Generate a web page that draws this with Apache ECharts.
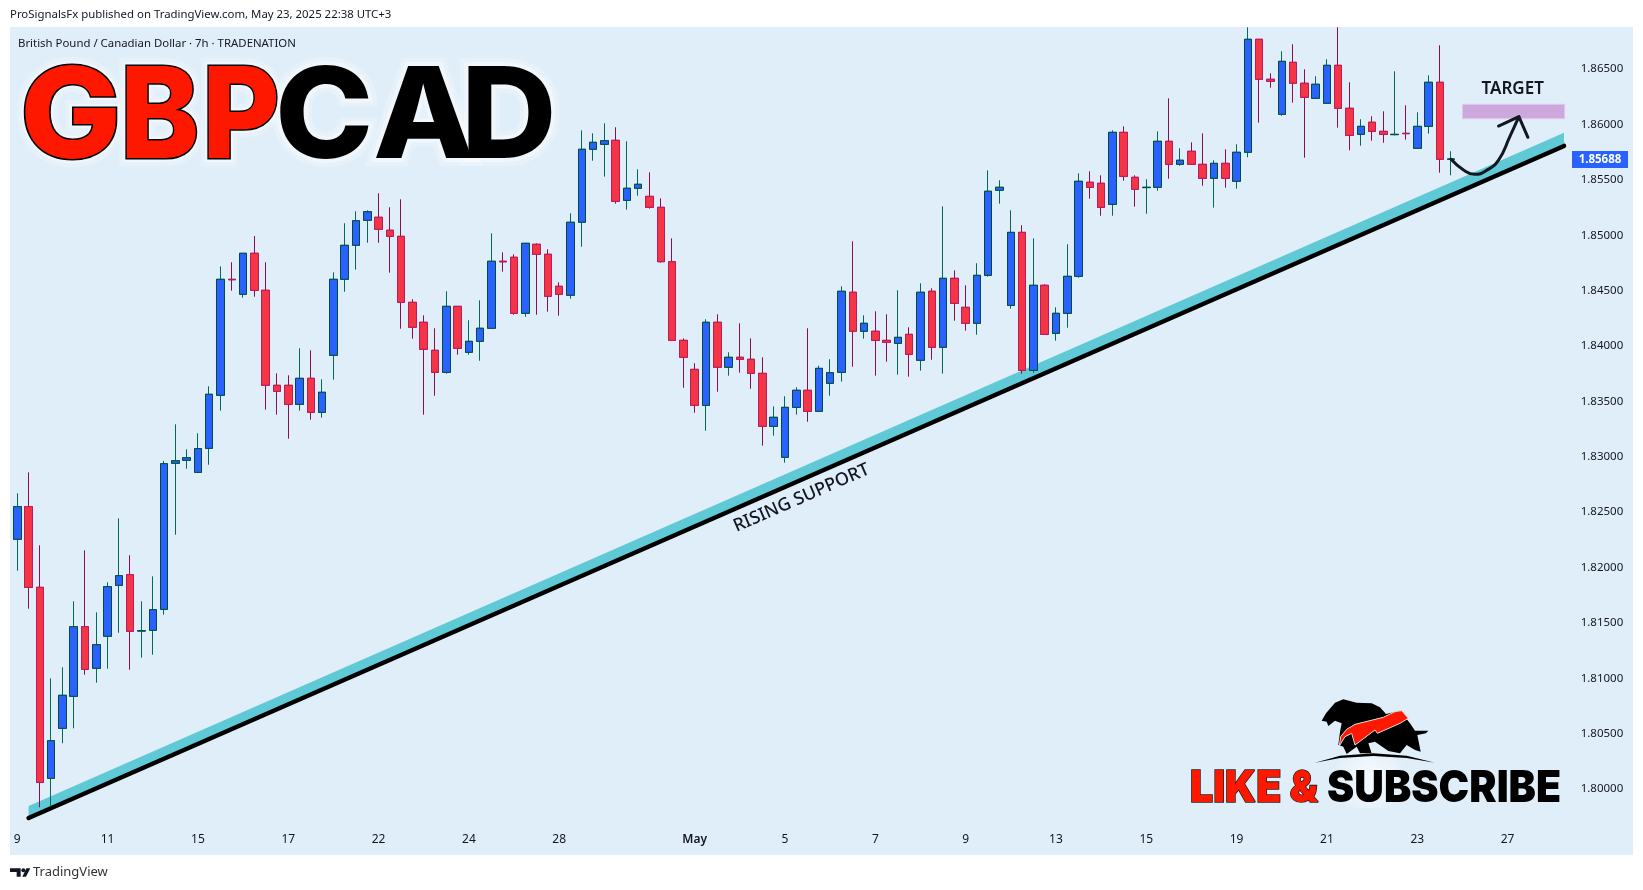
<!DOCTYPE html>
<html><head><meta charset="utf-8">
<style>html,body{margin:0;padding:0;background:#fff}#c{width:1643px;height:890px}</style>
<script src="https://cdn.jsdelivr.net/npm/echarts@6/dist/echarts.min.js"></script>
</head><body><div id="c"></div>
<script>
const opens=[1.82255,1.82549,1.81821,1.80097,1.80548,1.80837,1.81465,1.8109,1.81379,1.81839,
1.81935,1.81427,1.81433,1.81622,1.82941,1.82968,1.82859,1.83076,1.83555,1.84602,
1.84467,1.84837,1.84503,1.83645,1.83645,1.83473,1.83708,1.83401,1.83916,1.84602,
1.84909,1.85135,1.85162,1.85045,1.8499,1.84394,1.84214,1.83961,1.83762,1.84358,
1.83943,1.84042,1.8416,1.84765,1.84801,1.84295,1.84918,1.84828,1.84539,1.84458,
1.85117,1.85776,1.85821,1.85857,1.85315,1.85424,1.85351,1.85252,1.84761,1.84051,
1.83789,1.83464,1.84214,1.83808,1.83898,1.8388,1.83753,1.83275,1.82995,1.83446,
1.836,1.8341,1.83663,1.83762,1.84485,1.84133,1.84133,1.84051,1.84024,1.84105,
1.83871,1.84494,1.83988,1.84611,1.84349,1.84205,1.84638,1.85406,1.84367,1.85026,
1.8378,1.84548,1.84114,1.84295,1.84629,1.85478,1.85469,1.85279,1.85929,1.85523,
1.8543,1.85433,1.85848,1.8564,1.85758,1.8564,1.85514,1.85649,1.85487,1.85749,
1.86769,1.86408,1.86092,1.86561,1.86372,1.86236,1.86191,1.86534,1.86146,1.85911,
1.8602,1.85938,1.85908,1.8592,1.85785,1.85983,1.86381,1.85686];
const closes=[1.82549,1.81821,1.8006,1.80436,1.80846,1.81465,1.81081,1.81303,1.81827,1.81926,
1.81424,1.81429,1.81619,1.82937,1.82964,1.82991,1.83073,1.83564,1.84602,1.84598,
1.84837,1.84503,1.83645,1.83591,1.83473,1.83708,1.83401,1.83582,1.84602,1.84909,
1.85131,1.85212,1.85054,1.8499,1.84394,1.84169,1.8397,1.83762,1.84358,1.83979,
1.84042,1.8416,1.84765,1.8476,1.84295,1.84927,1.84828,1.84449,1.84467,1.85117,
1.85776,1.85839,1.85853,1.85306,1.85424,1.8546,1.85252,1.84761,1.84051,1.83898,
1.83464,1.84214,1.83808,1.83898,1.8388,1.83753,1.83275,1.83356,1.83446,1.836,
1.8341,1.83798,1.83759,1.84494,1.84133,1.84205,1.84051,1.84033,1.84078,1.83925,
1.84485,1.83988,1.84611,1.84385,1.84205,1.84638,1.85397,1.85433,1.85026,1.8378,
1.84548,1.84105,1.84295,1.84629,1.85487,1.85433,1.85252,1.85929,1.85532,1.85415,
1.85433,1.85848,1.8564,1.85677,1.8564,1.85514,1.85649,1.85514,1.85749,1.86769,
1.86408,1.8639,1.8657,1.86372,1.86245,1.86363,1.86534,1.86146,1.85902,1.85983,
1.85938,1.85911,1.85911,1.85917,1.85983,1.86381,1.85686,1.85688];
const lows=[1.81971,1.81628,1.79835,1.7984,1.80413,1.80548,1.81032,1.8096,1.81086,1.81411,
1.81077,1.81186,1.81213,1.81574,1.82296,1.82892,1.82859,1.82928,1.83416,1.84499,
1.84436,1.84445,1.83425,1.8338,1.83163,1.83416,1.83334,1.83353,1.83696,1.8449,
1.84689,1.84932,1.84932,1.84662,1.84156,1.84066,1.8338,1.83551,1.8375,1.83921,
1.83921,1.83867,1.8416,1.84671,1.84282,1.84264,1.84282,1.8431,1.84273,1.84427,
1.84896,1.85673,1.85529,1.85285,1.85231,1.85357,1.8524,1.84752,1.84051,1.83623,
1.83398,1.83235,1.83587,1.83732,1.83759,1.83614,1.831,1.8319,1.82946,1.8338,
1.83316,1.8341,1.83551,1.83678,1.83813,1.84066,1.83732,1.83858,1.83741,1.83723,
1.83777,1.83876,1.8375,1.84228,1.84138,1.84102,1.84626,1.85285,1.84337,1.8375,
1.83759,1.84102,1.84048,1.84165,1.84617,1.8533,1.85176,1.85176,1.85492,1.85258,
1.85194,1.85402,1.8551,1.85628,1.8564,1.85447,1.85249,1.85429,1.8542,1.85704,
1.86016,1.86332,1.86079,1.86197,1.857,1.86236,1.86191,1.85971,1.85767,1.85808,
1.85853,1.85835,1.85902,1.85863,1.85785,1.85917,1.85565,1.85541];
const highs=[1.8267,1.82859,1.822,1.80999,1.81099,1.81695,1.82155,1.81595,1.81866,1.82444,
1.8211,1.81695,1.8192,1.82962,1.83293,1.83067,1.83212,1.83636,1.84719,1.84756,
1.84837,1.84993,1.84756,1.83753,1.83735,1.83979,1.83961,1.83699,1.84665,1.85108,
1.85216,1.85225,1.85379,1.85252,1.85324,1.84422,1.84277,1.8416,1.84494,1.84358,
1.84232,1.84412,1.85017,1.84846,1.84828,1.84927,1.84927,1.84873,1.84575,1.85198,
1.85947,1.8592,1.86011,1.85975,1.85848,1.85595,1.85568,1.85333,1.84972,1.84069,
1.83844,1.84241,1.84286,1.83943,1.84205,1.84069,1.83898,1.83455,1.83546,1.83627,
1.8416,1.83822,1.8388,1.84539,1.84945,1.84277,1.84313,1.84286,1.84503,1.84169,
1.84566,1.84521,1.85261,1.84683,1.84548,1.84747,1.85586,1.85496,1.85225,1.8509,
1.84972,1.84557,1.84349,1.84918,1.85559,1.85577,1.85541,1.85947,1.85983,1.85541,
1.85505,1.85938,1.86236,1.85785,1.85839,1.8592,1.85677,1.85776,1.85821,1.86877,
1.86769,1.86462,1.86661,1.86724,1.86498,1.86435,1.86589,1.86877,1.86381,1.86047,
1.86074,1.86119,1.8648,1.86173,1.8611,1.86444,1.86715,1.85758];
const tickBars=[0,8,16,24,32,40,48,60,68,76,84,92,100,108,116,124,132];
const tickLabels=['9','11','15','17','22','24','28','May','5','7','9','13','15','19','21','23','27'];
const priceTicks=[1.80,1.805,1.81,1.815,1.82,1.825,1.83,1.835,1.84,1.845,1.85,1.855,1.86,1.865];
const barSlots=138;
const bandX=[1,137], bandTop=[1.79847,1.85926], bandBottom=[1.79747,1.85815];
const supportX=[1,137], supportP=[1.79738,1.85806];
const targetX=[128,137.06], targetP=[1.86052,1.86182];
const curveX=[127,128.1,129.1,130.1,131.2,132.2,133.0], curveP=[1.85686,1.85589,1.8555,1.85583,1.85679,1.8589,1.8607];
const headX=[131.2,133.0,133.8], headP=[1.85986,1.8607,1.85884];

const categories=new Array(barSlots).fill('');
tickBars.forEach((b,i)=>{categories[b]=tickLabels[i];});
const up='#2962FF',dn='#F23645';
const ink='#131722';
const txtFont='"Noto Sans",sans-serif';
const wicks=opens.map((o,i)=>[o,closes[i],lows[i],highs[i]]);
const bodies=opens.map((o,i)=>[o,closes[i],Math.min(o,closes[i]),Math.max(o,closes[i])]);
const logoLetters=[['G',20,'#FF1800',1.07],['B',120,'#FF1800',0.95],['P',202,'#FF1800',0.95],['C',275,'#000',1.05],['A',373,'#000',1.05],['D',461,'#000',1.05]];
const pts=s=>s.trim().split(/\s+/).map(p=>p.split(',').map(Number));
const g=[
 {type:'rect',z:-10,silent:true,shape:{x:10,y:27,width:1623,height:828},style:{fill:'#E0EEF9'}},
 {type:'text',x:10,y:15,style:{text:'ProSignalsFx published on TradingView.com, May 23, 2025 22:38 UTC+3',fill:ink,font:'11.4px '+txtFont,verticalAlign:'middle'}},
 {type:'text',x:18,y:43.5,style:{text:'British Pound / Canadian Dollar · 7h · TRADENATION',fill:ink,font:'11.4px '+txtFont,verticalAlign:'middle'}},
 {type:'text',x:33,y:872,style:{text:'TradingView',fill:'#333',font:'13px '+txtFont,verticalAlign:'middle'}},
 {type:'group',x:5,y:860,scaleX:1/3,scaleY:1/3,children:[
  {type:'polygon',shape:{points:pts('15,25 47,25 47,50 35,50 35,36 15,36')},style:{fill:ink}},
  {type:'polygon',shape:{points:pts('52,50 64,25 76,25 63,50')},style:{fill:ink}},
  {type:'circle',shape:{cx:55,cy:31,r:6},style:{fill:ink}}
 ]},
 {type:'text',x:1512.7,y:88.7,style:{text:'TARGET',fill:ink,font:'600 17px '+txtFont,align:'center',verticalAlign:'middle'}},
 {type:'text',x:801.5,y:498,rotation:Math.atan(0.437),style:{text:'RISING SUPPORT',fill:ink,font:'500 18px '+txtFont,align:'center',verticalAlign:'middle'}},
 {type:'rect',z:30,shape:{x:1572,y:151,width:56,height:17},style:{fill:up}},
 {type:'text',z:31,x:1600,y:159.6,style:{text:closes[closes.length-1].toFixed(5),fill:'#fff',font:'bold 11.5px '+txtFont,align:'center',verticalAlign:'middle'}}
];
logoLetters.forEach(l=>{
 [[16,0.22],[8,0.35]].forEach(h=>g.push({type:'text',z:19,x:l[1],y:120,scaleX:l[3],silent:true,style:{text:l[0],fill:'rgba(255,255,255,0)',stroke:'rgba(255,255,255,'+h[1]+')',lineWidth:h[0],font:'800 126px Inter,sans-serif',verticalAlign:'middle'}}));
 g.push({type:'text',z:20,x:l[1],y:120,scaleX:l[3],style:{text:l[0],fill:l[2],stroke:'#000',lineWidth:l[2]==='#000'?0:3,font:'800 126px Inter,sans-serif',verticalAlign:'middle'}});
});
g.push({type:'rect',z:18,silent:true,shape:{x:1160,y:735,width:420,height:73},style:{fill:new echarts.graphic.RadialGradient(0.5,0.6,0.5,[{offset:0,color:'rgba(255,255,255,0.75)'},{offset:0.7,color:'rgba(255,255,255,0.3)'},{offset:1,color:'rgba(255,255,255,0)'}])}});
g.push({type:'text',z:20,x:1190,y:789,scaleY:1.08,style:{text:'LIKE &',fill:'#FF1800',stroke:'#222',lineWidth:1.5,font:'900 41px Inter,sans-serif',verticalAlign:'middle'}});
g.push({type:'text',z:20,x:1327,y:789,scaleY:1.08,style:{text:'SUBSCRIBE',fill:'#000',font:'900 41px Inter,sans-serif',verticalAlign:'middle'}});
g.push({type:'group',z:20,x:1300,y:690,scaleX:1/3,scaleY:1/3,children:[
 {type:'polygon',z:20,shape:{points:pts('65,92 78,70 105,38 130,28 170,38 215,40 240,52 258,72 300,62 330,100 345,122 385,122 378,130 352,135 362,185 345,180 320,165 300,190 265,183 225,155 205,160 215,190 180,190 170,170 140,192 130,170 115,165 120,125 125,100 105,92 85,108 80,95')},style:{fill:'#000'}},
 {type:'polygon',z:21,shape:{points:pts('118,168 122,140 140,118 165,103 250,82 285,65 305,62 325,85 300,100 232,130 225,120 165,165 155,130 135,140')},style:{fill:'#FF1800',stroke:'#ddd',lineWidth:3}},
 {type:'polygon',z:20,shape:{points:pts('45,218 120,197 220,190 320,197 405,218 320,204 220,198 120,204')},style:{fill:'#000'}}
]});
const poly=(xs,lo,hi,fill,stroke)=>({type:'custom',xAxisIndex:1,yAxisIndex:0,z:1,silent:true,clip:false,
 renderItem:(p,api)=>({type:'polygon',shape:{points:[api.coord([xs[0],hi[0]]),api.coord([xs[1],hi[1]]),api.coord([xs[1],lo[1]]),api.coord([xs[0],lo[0]])]},style:{fill:fill,stroke:stroke||null,lineWidth:stroke?1:0}}),
 data:[[xs[0],lo[0]]]});
const zip=(a,b)=>a.map((v,i)=>[v,b[i]]);
const line=(xs,ps,w,col,smooth,top)=>({type:'line',xAxisIndex:1,yAxisIndex:0,data:zip(xs,ps),showSymbol:false,symbol:'none',smooth:smooth,z:top?3:1,silent:true,lineStyle:{width:w,color:col,cap:'round',join:'round'}});
const chart=echarts.init(document.getElementById('c'),null,{renderer:'canvas',width:1643,height:890});
chart.setOption({
 animation:false,backgroundColor:'#fff',
 grid:{left:11.65,top:27,width:1558.02,height:800,show:false},
 xAxis:[
  {type:'category',data:categories,boundaryGap:true,axisLine:{show:false},axisTick:{show:false},splitLine:{show:false},
   axisLabel:{interval:0,margin:7,color:ink,fontSize:12,fontFamily:'"Noto Sans",sans-serif',hideOverlap:false,
    formatter:v=>v==='May'?'{m|May}':v,rich:{m:{fontWeight:600,fontSize:12,color:ink,fontFamily:'"Noto Sans",sans-serif'}}}},
  {type:'value',min:-0.5,max:barSlots-0.5,show:false,splitLine:{show:false}}
 ],
 yAxis:[{type:'value',position:'right',min:1.79657,max:1.8688,axisLine:{show:false},axisTick:{show:false},splitLine:{show:false},
   axisLabel:{customValues:priceTicks,margin:11,color:ink,fontSize:11.5,fontFamily:'"Noto Sans",sans-serif',formatter:v=>v.toFixed(5)}}],
 series:[
  poly(bandX,bandBottom,bandTop,'#5FC9D6'),
  line(supportX,supportP,4.5,'#000',false,false),
  poly(targetX,[targetP[0],targetP[0]],[targetP[1],targetP[1]],'#CDA8DC','#E2C8EC'),
  {type:'candlestick',xAxisIndex:0,yAxisIndex:0,data:wicks,barWidth:8,z:2,silent:true,itemStyle:{color:'transparent',color0:'transparent',borderColor:'#00695C',borderColor0:'#880E4F',borderWidth:1}},
  {type:'candlestick',xAxisIndex:0,yAxisIndex:0,data:bodies,barWidth:8,z:2,silent:true,itemStyle:{color:up,color0:dn,borderColor:'#004D40',borderColor0:'#C2185B',borderWidth:1}},
  line(curveX,curveP,3,ink,true,true),
  line(headX,headP,3,ink,false,true)
 ],
 graphic:{elements:g}
});
</script></body></html>
